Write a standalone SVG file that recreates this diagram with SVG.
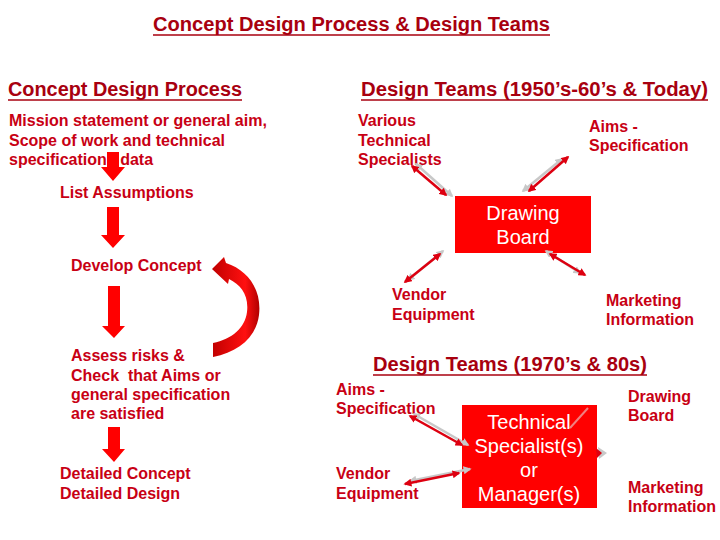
<svg xmlns="http://www.w3.org/2000/svg" width="720" height="540" viewBox="0 0 720 540">
<defs>
<style>
.t{font-family:"Liberation Sans",Arial,sans-serif;font-weight:bold;font-size:16px;fill:#c80014}
.h{font-family:"Liberation Sans",Arial,sans-serif;font-weight:bold;font-size:20px;fill:#a8000f}
.w{font-family:"Liberation Sans",Arial,sans-serif;font-size:20px;fill:#ffffff;text-anchor:middle}
.ul{stroke:#a8000f;stroke-width:1.5}
.blk{fill:#ff0000}
.box{fill:#ff0000}
.r{stroke:#dd0010;stroke-width:2.5;fill:none;marker-start:url(#ah);marker-end:url(#ah)}
.r1{stroke:#dd0010;stroke-width:2.5;fill:none;marker-end:url(#ah)}
.g{stroke:#c8c8c8;stroke-width:2.5;fill:none;marker-start:url(#gh);marker-end:url(#gh)}
</style>
<marker id="ah" viewBox="0 0 10 10" refX="8" refY="5" markerWidth="3.2" markerHeight="3.2" orient="auto-start-reverse"><path d="M0,0 L10,5 L0,10 Z" fill="#dd0010"/></marker>
<marker id="gh" viewBox="0 0 10 10" refX="8" refY="5" markerWidth="3.2" markerHeight="3.2" orient="auto-start-reverse"><path d="M0,0 L10,5 L0,10 Z" fill="#c8c8c8"/></marker>
<linearGradient id="cg" x1="0" y1="0" x2="1" y2="0"><stop offset="0" stop-color="#c00000"/><stop offset="0.7" stop-color="#ff1010"/><stop offset="1" stop-color="#b00000"/></linearGradient>
</defs>
<rect width="720" height="540" fill="#ffffff"/>

<g id="title">
<text class="h" x="153" y="31" textLength="397" lengthAdjust="spacingAndGlyphs">Concept Design Process &amp; Design Teams</text>
<line class="ul" x1="153" y1="35" x2="550" y2="35"/>
</g>
<g id="header-left">
<text class="h" x="8" y="96" textLength="234" lengthAdjust="spacingAndGlyphs">Concept Design Process</text>
<line class="ul" x1="8" y1="100" x2="242" y2="100"/>
</g>
<g id="header-right">
<text class="h" x="361" y="96" textLength="347" lengthAdjust="spacingAndGlyphs">Design Teams (1950’s-60’s &amp; Today)</text>
<line class="ul" x1="361" y1="100" x2="708" y2="100"/>
</g>
<g id="header-bottom">
<text class="h" x="373" y="371" textLength="274" lengthAdjust="spacingAndGlyphs">Design Teams (1970’s &amp; 80s)</text>
<line class="ul" x1="373" y1="375" x2="647" y2="375"/>
</g>

<!-- Left process -->
<g id="mission">
<text class="t" x="9" y="126">Mission statement or general aim,</text>
<text class="t" x="9" y="145.5">Scope of work and technical</text>
<text class="t" x="9" y="165">specification / data</text>
</g>
<g id="assumptions"><text class="t" x="60" y="198">List Assumptions</text></g>
<g id="develop"><text class="t" x="71" y="271">Develop Concept</text></g>
<g id="assess">
<text class="t" x="71" y="361">Assess risks &amp;</text>
<text class="t" x="71" y="381" xml:space="preserve">Check  that Aims or</text>
<text class="t" x="71" y="400">general specification</text>
<text class="t" x="71" y="419">are satisfied</text>
</g>
<g id="detailed">
<text class="t" x="60" y="479">Detailed Concept</text>
<text class="t" x="60" y="499">Detailed Design</text>
</g>

<!-- Right top -->
<g id="drawing-board">
<rect class="box" x="455" y="196" width="136" height="57"/>
<text class="w" x="523" y="220">Drawing</text>
<text class="w" x="523" y="244">Board</text>
</g>
<g id="various">
<text class="t" x="358" y="126">Various</text>
<text class="t" x="358" y="145.5">Technical</text>
<text class="t" x="358" y="165">Specialists</text>
</g>
<g id="aims1">
<text class="t" x="589" y="132">Aims -</text>
<text class="t" x="589" y="151">Specification</text>
</g>
<g id="vendor1">
<text class="t" x="392" y="300">Vendor</text>
<text class="t" x="392" y="320">Equipment</text>
</g>
<g id="marketing1">
<text class="t" x="606" y="306">Marketing</text>
<text class="t" x="606" y="325">Information</text>
</g>

<!-- Bottom -->
<g id="tech-box">
<rect class="box" x="462" y="405" width="135" height="103"/>
<line x1="570" y1="428" x2="588" y2="408" stroke="#f08080" stroke-width="2"/>
<text class="w" x="529" y="429">Technical</text>
<text class="w" x="529" y="453">Specialist(s)</text>
<text class="w" x="529" y="477">or</text>
<text class="w" x="529" y="501">Manager(s)</text>
</g>
<g id="aims2">
<text class="t" x="336" y="395">Aims -</text>
<text class="t" x="336" y="414">Specification</text>
</g>
<g id="vendor2">
<text class="t" x="336" y="479">Vendor</text>
<text class="t" x="336" y="499">Equipment</text>
</g>
<g id="drawing2">
<text class="t" x="628" y="402">Drawing</text>
<text class="t" x="628" y="421">Board</text>
</g>
<g id="marketing2">
<text class="t" x="628" y="493">Marketing</text>
<text class="t" x="628" y="512">Information</text>
</g>

<g id="connectors">
<!-- block arrows -->
<path class="blk" d="M107,152 H119 V167 H125 L113,181 L101,167 H107 Z"/>
<path class="blk" d="M107,207 H119 V235 H125 L113,248 L101,235 H107 Z"/>
<path class="blk" d="M108,286 H120 V326 H125 L114,338 L102,326 H108 Z"/>
<path class="blk" d="M108,427 H120 V449 H125 L114,462 L102,449 H108 Z"/>
<!-- curved feedback arrow -->
<path fill="url(#cg)" d="M212,269 L224,257 L226,263 C248,270 262,290 259,315 C256,338 238,352 213,357 L213,343 C232,339 245,328 247,312 C249,295 241,285 229,279 L228,284 Z"/>
<!-- top team arrows -->
<line class="g" x1="416" y1="164" x2="452" y2="196"/>
<line class="r" x1="412" y1="166" x2="446" y2="195"/>
<line class="g" x1="562" y1="159" x2="523" y2="191"/>
<line class="r" x1="568" y1="157" x2="529" y2="191"/>
<line class="g" x1="443" y1="251" x2="408" y2="280"/>
<line class="r" x1="440" y1="254" x2="405" y2="282"/>
<line class="g" x1="546" y1="251" x2="580" y2="273"/>
<line class="r" x1="550" y1="254" x2="585" y2="275"/>
<!-- bottom team arrows -->
<line class="g" x1="414" y1="414" x2="468" y2="445"/>
<line class="r" x1="410" y1="416" x2="462" y2="445"/>
<line class="g" x1="410" y1="481" x2="470" y2="469"/>
<line class="r" x1="405" y1="484" x2="459" y2="473"/>
<path d="M598,447 L607,453 L599,459 Z" fill="#c8c8c8"/>
<path d="M596,448 L602,453 L597,458 Z" fill="#dd0010"/>
</g>
</svg>
